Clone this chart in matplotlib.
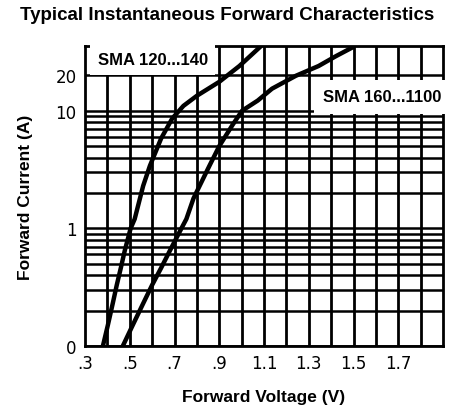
import numpy as np
import matplotlib
matplotlib.use('Agg')
import matplotlib.pyplot as plt
from matplotlib.ticker import FixedLocator, NullFormatter

# curve data (V, A)
v_120_140 = [0.38, 0.402, 0.424, 0.442, 0.46, 0.478, 0.504, 0.522, 0.56, 0.59,
             0.64, 0.69, 0.74, 0.80, 0.90, 0.99, 1.087]
i_120_140 = [0.10, 0.15, 0.23, 0.33, 0.46, 0.65, 1.0, 1.2, 2.3, 3.4,
             5.8, 8.6, 11.0, 13.4, 17.6, 24.0, 35.5]

v_160_1100 = [0.469, 0.513, 0.56, 0.60, 0.64, 0.68, 0.731, 0.753, 0.785, 0.856,
              0.90, 0.958, 1.002, 1.072, 1.136, 1.242, 1.344, 1.42, 1.50]
i_160_1100 = [0.10, 0.15, 0.23, 0.33, 0.46, 0.65, 1.0, 1.2, 1.8, 3.4,
              5.0, 7.5, 10.0, 12.2, 15.4, 19.8, 24.0, 29.0, 34.9]

x_ticks = [0.3, 0.5, 0.7, 0.9, 1.1, 1.3, 1.5, 1.7]
x_labels = ['.3', '.5', '.7', '.9', '1.1', '1.3', '1.5', '1.7']
x_grid = [0.4, 0.5, 0.6, 0.7, 0.8, 0.9, 1.0, 1.1, 1.2, 1.3, 1.4, 1.5, 1.6, 1.7, 1.8]
y_ticks = [0.1, 1, 10, 20]
y_labels = ['0', '1', '10', '20']

bold_font = ['Liberation Sans Narrow', 'Liberation Sans', 'DejaVu Sans']

fig = plt.figure(figsize=(4.55, 4.06), dpi=100)
ax = fig.add_axes([85 / 455, 59 / 406, 358 / 455, 300 / 406])

ax.set_yscale('log')
ax.set_xlim(0.3, 1.9)
ax.set_ylim(0.1, 35.5)

ax.plot(v_120_140, i_120_140, color='black', lw=3.2, zorder=4, solid_capstyle='butt')
ax.plot(v_160_1100, i_160_1100, color='black', lw=3.2, zorder=4, solid_capstyle='butt')

# vertical grid every 0.1 V
ax.vlines(x_grid, 0.1, 35.5, colors='#000000', linewidths=2.0, zorder=2)

ax.set_xticks(x_ticks)
ax.set_xticklabels(x_labels)
ax.set_yticks(y_ticks)
ax.set_yticklabels(y_labels)
minor_y = [m * d for d in (0.1, 1) for m in range(2, 10)]
ax.yaxis.set_minor_locator(FixedLocator(minor_y))
ax.yaxis.set_minor_formatter(NullFormatter())
ax.yaxis.grid(True, which='both', color='black', lw=1.8)
ax.set_axisbelow(True)
ax.tick_params(which='both', length=0, labelsize=12, colors='black', pad=6)

for s in ax.spines.values():
    s.set_linewidth(2)

# curve labels on white patches
ax.text(0.035, 0.955, 'SMA 120...140', transform=ax.transAxes, ha='left', va='center',
        fontsize=12, fontweight='bold', family=bold_font, zorder=3,
        bbox=dict(boxstyle='square,pad=0.45', fc='white', ec='none'))
ax.text(0.995, 0.83, 'SMA 160...1100', transform=ax.transAxes, ha='right', va='center',
        fontsize=12, fontweight='bold', family=bold_font, zorder=3,
        bbox=dict(boxstyle='square,pad=0.55', fc='white', ec='none'))

fig.text(0.5, 0.962, 'Typical Instantaneous Forward Characteristics', ha='center', va='center',
         fontsize=13.5, fontweight='bold', family=bold_font)
ax.set_xlabel('Forward Voltage (V)', fontsize=12.5, fontweight='bold', family=bold_font, labelpad=12)
ax.set_ylabel('Forward Current (A)', fontsize=12.5, fontweight='bold', family=bold_font, labelpad=16)

fig.savefig('out.png', dpi=100)
